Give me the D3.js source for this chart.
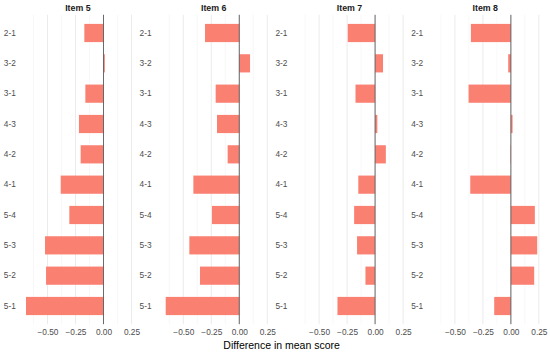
<!DOCTYPE html>
<html>
<head>
<meta charset="utf-8">
<script src="https://cdn.jsdelivr.net/npm/d3@7/dist/d3.min.js"></script>
<style>
  body { margin: 0; background: #fff; }
  text { font-family: "Liberation Sans", Arial, sans-serif; }
</style>
</head>
<body>
<div id="chart"></div>
<script>
// comparisons, top to bottom
const pairs = ["2-1", "3-2", "3-1", "4-3", "4-2", "4-1", "5-4", "5-3", "5-2", "5-1"];
const items = ["Item 5", "Item 6", "Item 7", "Item 8"];

// difference in mean score, one array per item (same order as pairs)
const item5 = [-0.171, 0.012, -0.162, -0.219, -0.204, -0.382, -0.305, -0.522, -0.513, -0.692];
const item6 = [-0.306, 0.096, -0.211, -0.199, -0.104, -0.410, -0.244, -0.446, -0.351, -0.657];
const item7 = [-0.244, 0.071, -0.175, 0.020, 0.096, -0.150, -0.187, -0.161, -0.086, -0.336];
const item8 = [-0.357, -0.024, -0.378, 0.015, -0.004, -0.363, 0.214, 0.235, 0.208, -0.149];

const majorTicks = [-0.5, -0.25, 0, 0.25];
const minorTicks = [-0.625, -0.375, -0.125, 0.125];

const series = [item5, item6, item7, item8];

// layout
let width = 550, height = 352;
let panelLeft = 20.8, panelWidth = 114.2, pitch = 135.8;
let panelTop = 14.8, panelBottom = 324.2;

let svg = d3.select("#chart").append("svg")
  .attr("width", width)
  .attr("height", height);

// shared x scale with 5% expansion, like ggplot
let all = series.flat();
let lo = d3.min(all), hi = d3.max(all);
let pad = (hi - lo) * 0.05;
let x = d3.scaleLinear().domain([lo - pad, hi + pad]).range([0, panelWidth]);

let y = d3.scaleBand().domain(pairs).range([panelTop, panelBottom])
  .paddingInner(0.4).paddingOuter(0.3);

items.forEach(function (name, i) {
  let g = svg.append("g")
    .attr("transform", "translate(" + (panelLeft + i * pitch) + ",0)");

  // minor grid
  g.selectAll(".minor")
    .data(minorTicks)
    .enter().append("line")
    .attr("x1", d => x(d)).attr("x2", d => x(d))
    .attr("y1", panelTop).attr("y2", panelBottom)
    .attr("stroke", "#f4f4f4").attr("stroke-width", 0.6);

  // major grid
  g.selectAll(".major")
    .data(majorTicks)
    .enter().append("line")
    .attr("x1", d => x(d)).attr("x2", d => x(d))
    .attr("y1", panelTop).attr("y2", panelBottom)
    .attr("stroke", "#ebebeb").attr("stroke-width", 1);

  // bars
  let vals = series[i];
  g.selectAll(".bar")
    .data(pairs.map((p, j) => ({ pair: p, value: vals[j] })))
    .enter().append("rect")
    .attr("x", d => x(Math.min(0, d.value)))
    .attr("width", d => Math.abs(x(d.value) - x(0)))
    .attr("y", d => y(d.pair))
    .attr("height", y.bandwidth())
    .attr("fill", "salmon");

  // zero line
  g.append("line")
    .attr("x1", x(0)).attr("x2", x(0))
    .attr("y1", panelTop).attr("y2", panelBottom)
    .attr("stroke", "#5a5a5a").attr("stroke-width", 0.9);

  // y axis labels
  let yAxis = g.append("g")
    .attr("transform", "translate(-2,0)")
    .call(d3.axisLeft(y).tickSize(0).tickPadding(3));
  yAxis.select(".domain").remove();
  yAxis.selectAll("text")
    .attr("fill", "#4d4d4d")
    .style("font-size", "8.3px");

  // x axis labels
  let xAxis = g.append("g")
    .attr("transform", "translate(0," + panelBottom + ")")
    .call(d3.axisBottom(x).tickValues(majorTicks).tickSize(0).tickPadding(5)
      .tickFormat(d3.format(".2f")));
  xAxis.select(".domain").remove();
  xAxis.selectAll("text")
    .attr("fill", "#4d4d4d")
    .style("font-size", "8.3px");

  // strip title
  g.append("text")
    .attr("x", panelWidth / 2)
    .attr("y", 10.5)
    .attr("text-anchor", "middle")
    .style("font-size", "8.8px")
    .style("font-weight", "bold")
    .attr("fill", "#1a1a1a")
    .text(name);
});

// axis title
svg.append("text")
  .attr("x", panelLeft + 3 * pitch / 2 + panelWidth / 2)
  .attr("y", 348.5)
  .attr("text-anchor", "middle")
  .style("font-size", "10.5px")
  .attr("fill", "#000")
  .text("Difference in mean score");
</script>
</body>
</html>
